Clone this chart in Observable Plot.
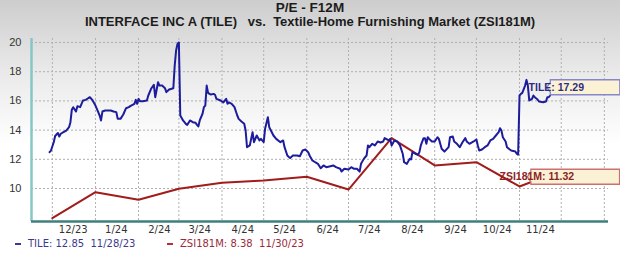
<!DOCTYPE html>
<html><head><meta charset="utf-8">
<script src="https://cdn.jsdelivr.net/npm/d3@7"></script>
<script src="https://cdn.jsdelivr.net/npm/@observablehq/plot@0.6"></script>
<style>
body{margin:0;}
#wrap{position:relative;width:620px;height:253px;overflow:hidden;background:linear-gradient(to bottom,#cdcdcd 0px,#e9e9e9 70px,#ffffff 145px);font-family:"Liberation Sans",Arial,sans-serif;}
#chart{position:absolute;left:0;top:0;}
.title{position:absolute;left:0;width:620px;text-align:center;font-weight:bold;color:#1c1c1c;white-space:pre;font-size:13px;line-height:13px;height:13px;}
#t1{top:1px;font-size:13.5px;}
#t2{top:14.5px;}
.leg{position:absolute;top:238px;font-family:"DejaVu Sans",sans-serif;font-size:10px;line-height:12px;white-space:pre;}
.dash{position:absolute;top:243px;width:6px;height:2px;}
g[aria-label="x-axis tick label"] text{font-family:"DejaVu Sans",sans-serif;font-size:10px;fill:#333;}
g[aria-label="y-axis tick label"] text{font-family:"Liberation Sans",Arial,sans-serif;font-size:11px;fill:#333;}
</style></head>
<body>
<div id="wrap">
  <div id="chart"></div>
  <div class="title" id="t1">P/E - F12M</div>
  <div class="title" id="t2">INTERFACE INC A (TILE)   vs.  Textile-Home Furnishing Market (ZSI181M)</div>
  <div class="dash" style="left:15px;background:#3a3a9a;"></div>
  <div class="leg" style="left:28px;color:#3b3b8c;">TILE: 12.85  11/28/23</div>
  <div class="dash" style="left:167px;background:#b03040;"></div>
  <div class="leg" style="left:180px;color:#9c2a3a;">ZSI181M: 8.38  11/30/23</div>
</div>
<script>
// ---- data ----
const tileDates = ["2023-11-28","2023-11-29","2023-12-01","2023-12-02","2023-12-04","2023-12-05","2023-12-06","2023-12-08","2023-12-10","2023-12-12","2023-12-13","2023-12-14","2023-12-15","2023-12-17","2023-12-18","2023-12-20","2023-12-21","2023-12-22","2023-12-24","2023-12-26","2023-12-27","2023-12-29","2023-12-31",
"2024-01-02","2024-01-03","2024-01-04","2024-01-05","2024-01-07","2024-01-11","2024-01-13","2024-01-15","2024-01-16","2024-01-18","2024-01-20","2024-01-22","2024-01-24","2024-01-25","2024-01-28","2024-01-29","2024-01-30","2024-01-31",
"2024-02-01","2024-02-03","2024-02-06","2024-02-07","2024-02-09","2024-02-11","2024-02-12","2024-02-14","2024-02-15","2024-02-17","2024-02-19","2024-02-20","2024-02-22","2024-02-25","2024-02-26","2024-02-27","2024-02-28","2024-02-29",
"2024-03-01","2024-03-03","2024-03-05","2024-03-06","2024-03-08","2024-03-10","2024-03-12","2024-03-13","2024-03-14","2024-03-15","2024-03-17","2024-03-18","2024-03-19","2024-03-20","2024-03-21","2024-03-22","2024-03-23","2024-03-25","2024-03-26","2024-03-27","2024-03-30",
"2024-04-01","2024-04-03","2024-04-04","2024-04-05","2024-04-07","2024-04-09","2024-04-11","2024-04-12","2024-04-14","2024-04-16","2024-04-17","2024-04-18","2024-04-20","2024-04-22","2024-04-23","2024-04-25","2024-04-27","2024-04-28","2024-04-30",
"2024-05-01","2024-05-03","2024-05-04","2024-05-07","2024-05-09","2024-05-12","2024-05-14","2024-05-15","2024-05-17","2024-05-19","2024-05-21","2024-05-24","2024-05-26","2024-05-28","2024-05-30",
"2024-06-01","2024-06-02","2024-06-04","2024-06-06","2024-06-08","2024-06-10","2024-06-12","2024-06-14","2024-06-17","2024-06-19","2024-06-21","2024-06-24","2024-06-25","2024-06-27","2024-06-30",
"2024-07-02","2024-07-04","2024-07-06","2024-07-08","2024-07-09","2024-07-11","2024-07-13","2024-07-14","2024-07-15","2024-07-17","2024-07-19","2024-07-21","2024-07-23","2024-07-25","2024-07-26","2024-07-27","2024-07-29","2024-07-30","2024-07-31",
"2024-08-02","2024-08-04","2024-08-06","2024-08-08","2024-08-09","2024-08-11","2024-08-13","2024-08-14","2024-08-15","2024-08-17","2024-08-19","2024-08-20","2024-08-21","2024-08-23","2024-08-24","2024-08-25","2024-08-26","2024-08-27","2024-08-29","2024-08-31",
"2024-09-02","2024-09-03","2024-09-05","2024-09-07","2024-09-10","2024-09-11","2024-09-13","2024-09-14","2024-09-16","2024-09-18","2024-09-20","2024-09-22","2024-09-23","2024-09-25","2024-09-28","2024-09-30",
"2024-10-01","2024-10-02","2024-10-04","2024-10-06","2024-10-08","2024-10-10","2024-10-12","2024-10-14","2024-10-16","2024-10-17","2024-10-18","2024-10-19","2024-10-21","2024-10-22","2024-10-24","2024-10-25","2024-10-28","2024-10-29","2024-10-30","2024-10-31",
"2024-11-01","2024-11-02","2024-11-04","2024-11-05","2024-11-06","2024-11-07","2024-11-09","2024-11-10","2024-11-11","2024-11-13","2024-11-14","2024-11-17","2024-11-19","2024-11-20","2024-11-21","2024-11-22"];
const tileValues = [12.49,12.6,13.17,13.6,13.8,13.56,13.75,13.86,13.97,14.2,14.54,15.4,15.57,15.27,15.64,15.57,15.8,16.03,16.07,16.2,16.25,16.03,15.68,
15.23,15.0,14.66,15.27,15.34,15.34,15.27,15.23,14.77,14.77,15.07,15.5,15.57,15.64,15.8,16.07,15.8,16.14,
15.98,15.98,16.03,16.37,16.83,17.1,16.25,17.28,17.05,17.05,16.87,16.6,16.78,16.87,18.42,19.45,19.9,20.0,
15.0,14.66,14.43,14.36,14.66,14.54,14.5,14.36,14.25,14.66,15.12,15.57,15.68,17.05,16.55,16.48,16.44,16.48,16.42,16.14,16.03,
15.9,16.14,15.8,15.9,15.8,15.57,15.0,14.77,14.59,14.43,13.97,12.83,12.95,13.86,13.17,13.63,13.29,13.4,13.17,
14.09,14.88,14.2,13.63,13.4,13.17,13.29,12.83,12.26,12.08,12.26,12.26,12.21,12.6,12.67,
12.49,12.26,11.92,11.8,11.69,11.39,11.58,11.46,11.53,11.58,11.46,11.35,11.16,11.35,11.3,
11.46,11.35,11.35,11.16,11.69,12.03,12.26,12.95,12.83,13.06,12.95,13.22,13.15,13.22,13.45,13.4,13.29,13.4,12.95,
13.29,13.22,12.95,12.38,11.8,11.69,12.03,11.99,12.49,12.38,12.31,12.49,12.95,13.45,13.45,13.06,13.51,13.4,13.22,13.22,
13.51,13.4,12.72,12.53,12.83,13.51,13.56,13.22,13.06,12.83,13.17,13.45,13.22,13.06,13.22,13.36,
12.95,12.6,12.67,12.83,12.95,13.29,13.4,13.63,13.86,14.13,13.97,13.51,13.22,12.83,12.67,12.6,12.53,12.38,12.31,16.37,
16.48,16.55,17.05,17.44,17.05,16.03,16.14,16.37,16.25,16.1,15.96,15.91,15.96,16.25,16.25,16.37];

const zsiDates = ["2023-11-30","2023-12-31","2024-01-31","2024-02-29","2024-03-31","2024-04-30","2024-05-31","2024-06-30","2024-07-31","2024-08-31","2024-09-30","2024-10-31","2024-11-08"];
const zsiValues = [7.97,9.75,9.23,9.98,10.39,10.55,10.8,9.93,13.45,11.58,11.8,10.14,10.43];

const gridDates = ["2023-11-30","2023-12-31","2024-01-31","2024-02-29","2024-03-31","2024-04-30","2024-05-31","2024-06-30","2024-07-31","2024-08-31","2024-09-30","2024-10-31","2024-11-30","2024-12-31"];
const tickDates = ["2023-12-15","2024-01-15","2024-02-15","2024-03-15","2024-04-15","2024-05-15","2024-06-15","2024-07-15","2024-08-15","2024-09-15","2024-10-15","2024-11-15"];
const tickLabels = ["12/23","1/24","2/24","3/24","4/24","5/24","6/24","7/24","8/24","9/24","10/24","11/24"];
const yTicks = [10,12,14,16,18,20];
const xDomain = ["2023-11-15","2025-01-03"];
const yDomain = [7.74, 20.274];

const calloutTexts = ["TILE: 17.29","ZSI181M: 11.32"];
const calloutDates = ["2024-11-20","2024-11-06"];
const calloutValues = [16.9, 10.77];

// ---- build ----
const P = s => new Date(s + "T00:00:00Z");
const tile = tileDates.map((d,i)=>({date:P(d), value:tileValues[i]}));
const zsi = zsiDates.map((d,i)=>({date:P(d), value:zsiValues[i]}));
const labelFor = new Map(tickDates.map((d,i)=>[+P(d), tickLabels[i]]));
const xMin = P(xDomain[0]), xMax = P(xDomain[1]);

const chart = Plot.plot({
  width: 620, height: 253,
  marginLeft: 31, marginRight: 12, marginTop: 38, marginBottom: 32,
  style: {background: "transparent", overflow: "visible"},
  x: {type: "utc", domain: [xMin, xMax]},
  y: {domain: yDomain},
  marks: [
    Plot.ruleY(yTicks, {stroke: "#b0b0b0", strokeDasharray: "2,2", strokeWidth: 1}),
    Plot.ruleX(gridDates.map(P), {stroke: "#b0b0b0", strokeDasharray: "2,2", strokeWidth: 1}),
    Plot.axisY(yTicks, {tickSize: 0, tickPadding: 10, label: null}),
    Plot.axisX(tickDates.map(P), {tickSize: 0, tickPadding: 4, label: null, tickFormat: d => labelFor.get(+d)}),
    Plot.line(zsi, {x: "date", y: "value", stroke: "#a11c1c", strokeWidth: 2}),
    Plot.line(tile, {x: "date", y: "value", stroke: "#1c1c9c", strokeWidth: 2}),
    Plot.ruleX([xMin], {stroke: "#86c6c4", strokeWidth: 2.5}),
    Plot.ruleY([yDomain[0]], {stroke: "#3f7f7f", strokeWidth: 2.5})
  ]
});
document.getElementById("chart").appendChild(chart);

// callouts drawn through the plot's own scales
const sx = chart.scale("x"), sy = chart.scale("y");
const X = sx.apply ? (d => sx.apply(d)) : d3.scaleUtc(sx.domain, sx.range);
const Y = sy.apply ? (v => sy.apply(v)) : d3.scaleLinear(sy.domain, sy.range);
const svg = d3.select(chart.tagName.toLowerCase()==="svg" ? chart : chart.querySelector("svg"));
const styles = [{text:"#2e2e80", border:"#8686c8"}, {text:"#8c2424", border:"#cc7070"}];
calloutTexts.forEach((txt, i) => {
  const x = X(P(calloutDates[i])), y = Y(calloutValues[i]);
  const g = svg.append("g");
  const path = g.append("path");
  const bx = x + 3.5, h = 15;
  const t = g.append("text").attr("x", bx + 6).attr("y", y).attr("dy", "0.35em")
    .attr("font-family", "Liberation Sans, Arial, sans-serif").attr("font-size", 10.5).attr("font-weight", "bold")
    .attr("fill", styles[i].text).text(txt);
  const w = t.node().getComputedTextLength();
  const bw = w + 14;
  path.attr("d", `M${x},${y}L${bx},${y-5}L${bx},${y-h/2}L${bx+bw},${y-h/2}L${bx+bw},${y+h/2}L${bx},${y+h/2}L${bx},${y+5}Z`)
    .attr("fill", "#fbf1d4").attr("stroke", styles[i].border).attr("stroke-width", 1.3);
});
</script>
</body></html>
